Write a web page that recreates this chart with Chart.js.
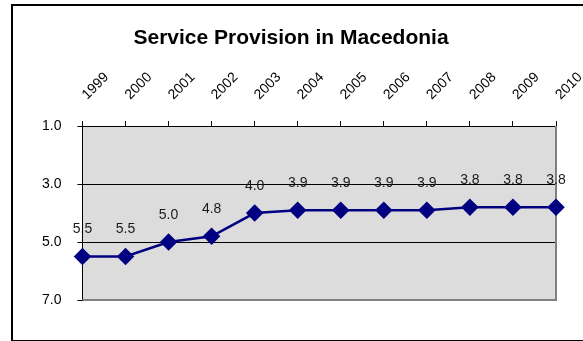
<!DOCTYPE html>
<html>
<head>
<meta charset="utf-8">
<script src="https://cdn.jsdelivr.net/npm/chart.js@4/dist/chart.umd.min.js"></script>
<style>
  html, body { margin: 0; padding: 0; background: #fff; overflow: hidden; }
  #frame { position: absolute; left: 11px; top: 4px; width: 620px; height: 334px; border: 2px solid #000; }
  #chart { position: absolute; left: 0; top: 0; }
</style>
</head>
<body>
<div id="frame"></div>
<canvas id="chart" width="583" height="341"></canvas>
<script>
const years = ['1999', '2000', '2001', '2002', '2003', '2004', '2005', '2006', '2007', '2008', '2009', '2010'];
const scores = [5.5, 5.5, 5.0, 4.8, 4.0, 3.9, 3.9, 3.9, 3.9, 3.8, 3.8, 3.8];
const yTicks = [1, 3, 5, 7];

const FONT = 'Arial, "Liberation Sans", sans-serif';

// gray plot area + right/bottom edge like the old Excel chart
const plotArea = {
    id: 'plotArea',
    beforeDraw(chart) {
        const { ctx, chartArea: a } = chart;
        ctx.save();
        ctx.fillStyle = '#dcdcdc';
        ctx.fillRect(a.left, a.top, a.right - a.left, a.bottom - a.top);
        ctx.restore();
    },
    beforeDatasetsDraw(chart) {
        const { ctx, chartArea: a } = chart;
        ctx.save();
        ctx.strokeStyle = '#808080';
        ctx.lineWidth = 2;
        ctx.beginPath();
        ctx.moveTo(a.left, a.bottom);
        ctx.lineTo(a.right, a.bottom);
        ctx.lineTo(a.right, a.top);
        ctx.stroke();
        ctx.restore();
    }
};

// value labels above each point
const valueLabels = {
    id: 'valueLabels',
    afterDatasetsDraw(chart) {
        const { ctx } = chart;
        const meta = chart.getDatasetMeta(0);
        ctx.save();
        ctx.font = '14px ' + FONT;
        ctx.fillStyle = '#1a1a1a';
        ctx.textAlign = 'center';
        ctx.textBaseline = 'middle';
        meta.data.forEach((pt, i) => {
            ctx.fillText(scores[i].toFixed(1), pt.x, pt.y - 27);
        });
        ctx.restore();
    }
};

const ctx = document.getElementById('chart').getContext('2d');
new Chart(ctx, {
    type: 'line',
    data: {
        labels: years,
        datasets: [{
            label: 'Service Provision',
            data: scores,
            borderColor: '#000080',
            backgroundColor: '#000080',
            borderWidth: 2.5,
            pointStyle: 'rectRot',
            pointRadius: 7,
            pointHoverRadius: 7,
            tension: 0
        }]
    },
    options: {
        responsive: false,
        animation: false,
        layout: { padding: { left: 26, right: 27, top: 10, bottom: 41 } },
        plugins: {
            legend: { display: false },
            tooltip: { enabled: false },
            title: {
                display: true,
                text: 'Service Provision in Macedonia',
                color: '#000',
                font: { family: FONT, size: 21, weight: 'bold' },
                padding: { top: 16, bottom: 0 }
            }
        },
        scales: {
            x: {
                position: 'top',
                offset: false,
                afterFit(scale) {
                    scale.paddingLeft = 0;
                    scale.paddingRight = 0;
                },
                grid: { drawOnChartArea: false, drawTicks: true, tickLength: 5, color: '#000' },
                border: { color: '#000', width: 1 },
                ticks: {
                    color: '#000',
                    font: { family: FONT, size: 14 },
                    minRotation: 45,
                    maxRotation: 45,
                    padding: 18,
                    labelOffset: 14,
                    autoSkip: false
                }
            },
            y: {
                reverse: true,
                min: 1,
                max: 7,
                afterBuildTicks(axis) {
                    axis.ticks = yTicks.map(v => ({ value: v }));
                },
                grid: {
                    color: c => (c.tick && c.tick.value === 7) ? '#808080' : (c.tick && c.tick.value === 1 ? 'rgba(0,0,0,0)' : '#000'),
                    tickColor: '#000',
                    tickLength: 5
                },
                border: { color: '#000', width: 1 },
                ticks: {
                    color: '#000',
                    font: { family: FONT, size: 14 },
                    padding: 16,
                    callback: v => Number(v).toFixed(1)
                }
            }
        }
    },
    plugins: [plotArea, valueLabels]
});
</script>
</body>
</html>
